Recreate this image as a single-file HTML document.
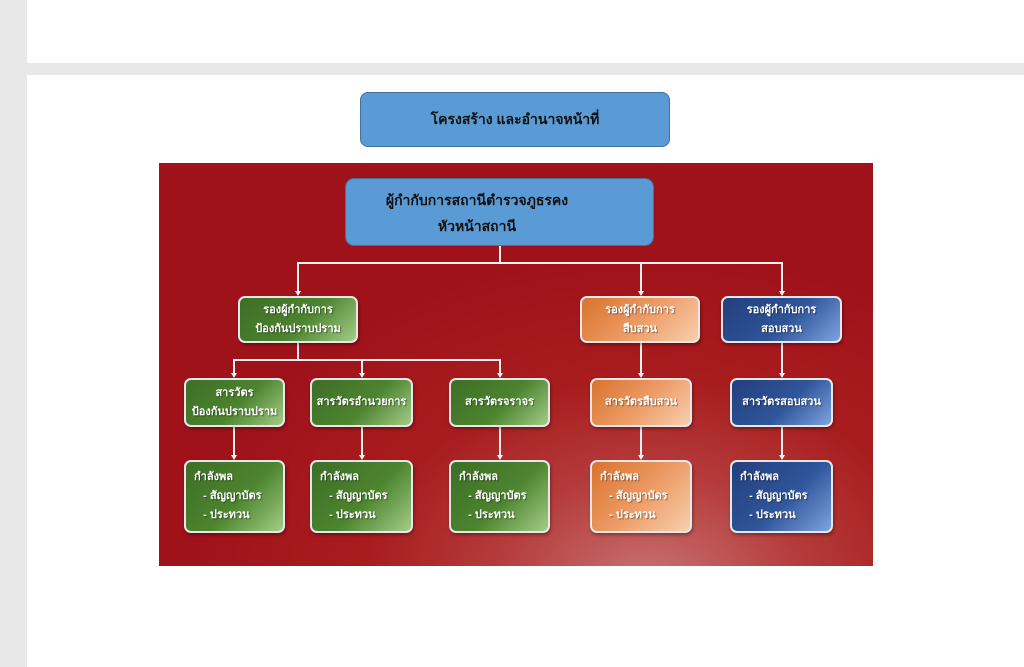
<!DOCTYPE html>
<html><head><meta charset="utf-8"><style>
*{margin:0;padding:0;box-sizing:border-box}
body{width:1024px;height:667px;background:#fff;position:relative;overflow:hidden;font-family:"Liberation Sans","DejaVu Sans",sans-serif}
.abs{position:absolute}
.box{position:absolute;border-radius:7px;border:2px solid #e8e8e8;color:#fff;font-size:11px;font-weight:bold;display:flex;flex-direction:column;align-items:center;justify-content:center;text-align:center;line-height:19px;box-shadow:1px 2px 3px rgba(0,0,0,.35);text-shadow:1px 1px 1px rgba(0,0,0,.4)}
.g{background:linear-gradient(135deg,#3d6e26 0%,#4d842f 55%,#a3cc86 100%)}
.o{background:linear-gradient(135deg,#d8732d 0%,#ec9a63 50%,#f8cfae 100%)}
.b{background:linear-gradient(135deg,#233f7c 0%,#2f559a 55%,#7ea3df 100%)}
.l4{align-items:flex-start;text-align:left;padding-left:8px}
.ln{position:absolute;background:#f2f2f2}
.ar{position:absolute;width:0;height:0;border-left:3px solid transparent;border-right:3px solid transparent;border-top:5px solid #f2f2f2}
</style></head><body>
<div class="abs" style="left:0;top:0;width:27px;height:667px;background:#e8e8e8"></div>
<div class="abs" style="left:27px;top:63px;width:997px;height:12px;background:#e8e8e8"></div>
<div class="abs" style="left:360px;top:92px;width:310px;height:55px;background:#5b9bd5;border:1px solid #41719c;border-radius:8px;display:flex;align-items:center;justify-content:center;font-weight:bold;font-size:14px;color:#111">โครงสร้าง และอำนาจหน้าที่</div>
<div class="abs" style="left:159px;top:163px;width:714px;height:403px;background:radial-gradient(ellipse 460px 330px at 490px 420px,#c97272 0%,#b53c3c 33%,#a81c1e 62%,#a0121a 100%)"></div>
<div class="abs" style="left:345px;top:178px;width:309px;height:68px;background:#5b9bd5;border:1px solid #41719c;border-radius:9px;color:#111;font-size:14px;font-weight:bold;line-height:26px;text-align:center;padding-top:8px;padding-right:45px">ผู้กำกับการสถานีตำรวจภูธรคง<br>หัวหน้าสถานี</div>
<!-- lines -->
<div class="ln" style="left:499px;top:246px;width:2px;height:18px"></div>
<div class="ln" style="left:297px;top:262px;width:486px;height:2px"></div>
<div class="ln" style="left:297px;top:262px;width:2px;height:30px"></div>
<div class="ln" style="left:640px;top:262px;width:2px;height:30px"></div>
<div class="ln" style="left:781px;top:262px;width:2px;height:30px"></div>
<div class="ar" style="left:295px;top:291px"></div>
<div class="ar" style="left:638px;top:291px"></div>
<div class="ar" style="left:779px;top:291px"></div>
<div class="ln" style="left:297px;top:343px;width:2px;height:18px"></div>
<div class="ln" style="left:233px;top:359px;width:268px;height:2px"></div>
<div class="ln" style="left:233px;top:359px;width:2px;height:15px"></div>
<div class="ln" style="left:361px;top:359px;width:2px;height:15px"></div>
<div class="ln" style="left:499px;top:359px;width:2px;height:15px"></div>
<div class="ln" style="left:640px;top:343px;width:2px;height:31px"></div>
<div class="ln" style="left:781px;top:343px;width:2px;height:31px"></div>
<div class="ar" style="left:231px;top:373px"></div>
<div class="ar" style="left:359px;top:373px"></div>
<div class="ar" style="left:497px;top:373px"></div>
<div class="ar" style="left:638px;top:373px"></div>
<div class="ar" style="left:779px;top:373px"></div>
<div class="ln" style="left:233px;top:427px;width:2px;height:29px"></div>
<div class="ln" style="left:361px;top:427px;width:2px;height:29px"></div>
<div class="ln" style="left:499px;top:427px;width:2px;height:29px"></div>
<div class="ln" style="left:640px;top:427px;width:2px;height:29px"></div>
<div class="ln" style="left:781px;top:427px;width:2px;height:29px"></div>
<div class="ar" style="left:231px;top:455px"></div>
<div class="ar" style="left:359px;top:455px"></div>
<div class="ar" style="left:497px;top:455px"></div>
<div class="ar" style="left:638px;top:455px"></div>
<div class="ar" style="left:779px;top:455px"></div>
<!-- level 2 -->
<div class="box g" style="left:238px;top:296px;width:120px;height:47px">รองผู้กำกับการ<br>ป้องกันปราบปราม</div>
<div class="box o" style="left:580px;top:296px;width:120px;height:47px">รองผู้กำกับการ<br>สืบสวน</div>
<div class="box b" style="left:721px;top:296px;width:121px;height:47px">รองผู้กำกับการ<br>สอบสวน</div>
<!-- level 3 -->
<div class="box g" style="left:184px;top:378px;width:101px;height:49px">สารวัตร<br>ป้องกันปราบปราม</div>
<div class="box g" style="left:310px;top:378px;width:103px;height:49px">สารวัตรอำนวยการ</div>
<div class="box g" style="left:449px;top:378px;width:101px;height:49px">สารวัตรจราจร</div>
<div class="box o" style="left:590px;top:378px;width:102px;height:49px">สารวัตรสืบสวน</div>
<div class="box b" style="left:730px;top:378px;width:103px;height:49px">สารวัตรสอบสวน</div>
<!-- level 4 -->
<div class="box g l4" style="left:184px;top:460px;width:101px;height:73px">กำลังพล<br>&nbsp;&nbsp;&nbsp;- สัญญาบัตร<br>&nbsp;&nbsp;&nbsp;- ประทวน</div>
<div class="box g l4" style="left:310px;top:460px;width:103px;height:73px">กำลังพล<br>&nbsp;&nbsp;&nbsp;- สัญญาบัตร<br>&nbsp;&nbsp;&nbsp;- ประทวน</div>
<div class="box g l4" style="left:449px;top:460px;width:101px;height:73px">กำลังพล<br>&nbsp;&nbsp;&nbsp;- สัญญาบัตร<br>&nbsp;&nbsp;&nbsp;- ประทวน</div>
<div class="box o l4" style="left:590px;top:460px;width:102px;height:73px">กำลังพล<br>&nbsp;&nbsp;&nbsp;- สัญญาบัตร<br>&nbsp;&nbsp;&nbsp;- ประทวน</div>
<div class="box b l4" style="left:730px;top:460px;width:103px;height:73px">กำลังพล<br>&nbsp;&nbsp;&nbsp;- สัญญาบัตร<br>&nbsp;&nbsp;&nbsp;- ประทวน</div>
</body></html>
